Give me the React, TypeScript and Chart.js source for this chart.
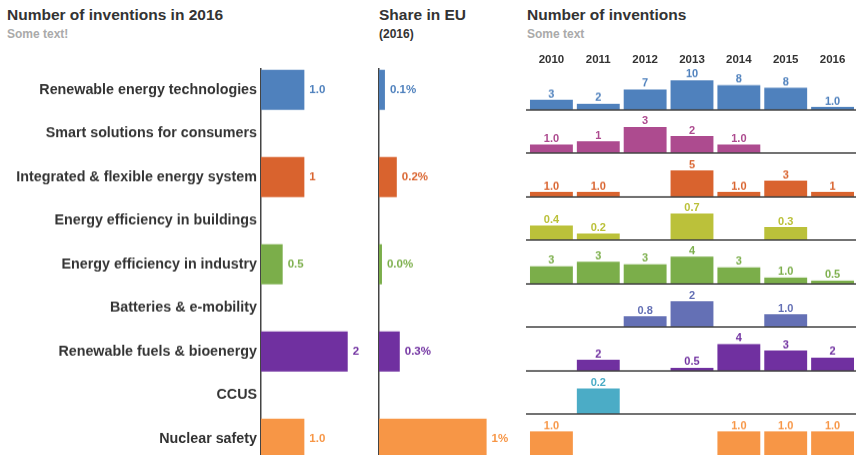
import React, { useEffect, useRef } from "react";
import { Chart, registerables } from "chart.js";
Chart.register(...registerables);

const FONT = '"Liberation Sans", Arial, Helvetica, sans-serif';
const DARK = "#333333";
const AXIS = "#444444";

// ---------- data ----------
const categories = [
  "Renewable energy technologies",
  "Smart solutions for consumers",
  "Integrated & flexible energy system",
  "Energy efficiency in buildings",
  "Energy efficiency in industry",
  "Batteries & e-mobility",
  "Renewable fuels & bioenergy",
  "CCUS",
  "Nuclear safety",
];
const categoryColors = [
  "#4f81bd",
  "#ad4b8f",
  "#d9632e",
  "#bbc13a",
  "#7bae4a",
  "#6470b5",
  "#7030a0",
  "#4bacc6",
  "#f79646",
];
const inventions2016 = [1.0, null, 1.0, null, 0.5, null, 2.0, null, 1.0];
const inventions2016Labels = ["1.0", "", "1", "", "0.5", "", "2", "", "1.0"];
const shareEU = [0.08, null, 0.24, null, 0.04, null, 0.28, null, 1.45];
const shareEULabels = ["0.1%", "", "0.2%", "", "0.0%", "", "0.3%", "", "1%"];

const years = ["2010", "2011", "2012", "2013", "2014", "2015", "2016"];
const renewableEnergyByYear = [3.4, 2.1, 6.9, 10, 8.3, 7.5, 1.0];
const renewableEnergyLabels = ["3", "2", "7", "10", "8", "8", "1.0"];
const smartSolutionsByYear = [0.98, 1.35, 3, 1.96, 0.98, null, null];
const smartSolutionsLabels = ["1.0", "1", "3", "2", "1.0", "", ""];
const integratedSystemByYear = [0.96, 0.96, null, 5, 0.96, 3.08, 0.96];
const integratedSystemLabels = ["1.0", "1.0", "", "5", "1.0", "3", "1"];
const buildingsByYear = [0.38, 0.17, null, 0.7, null, 0.34, null];
const buildingsLabels = ["0.4", "0.2", "", "0.7", "", "0.3", ""];
const industryByYear = [2.6, 3.25, 2.9, 4, 2.45, 0.95, 0.5];
const industryLabels = ["3", "3", "3", "4", "3", "1.0", "0.5"];
const batteriesByYear = [null, null, 0.83, 2, null, 0.99, null];
const batteriesLabels = ["", "", "0.8", "2", "", "1.0", ""];
const renewableFuelsByYear = [null, 1.67, null, 0.46, 4, 3.04, 1.98];
const renewableFuelsLabels = ["", "2", "", "0.5", "4", "3", "2"];
const ccusByYear = [null, 0.2, null, null, null, null, null];
const ccusLabels = ["", "0.2", "", "", "", "", ""];
const nuclearByYear = [1.0, null, null, null, 1.0, 1.0, 1.0];
const nuclearLabels = ["1.0", "", "", "", "1.0", "1.0", "1.0"];

const rowSeries = [
  renewableEnergyByYear,
  smartSolutionsByYear,
  integratedSystemByYear,
  buildingsByYear,
  industryByYear,
  batteriesByYear,
  renewableFuelsByYear,
  ccusByYear,
  nuclearByYear,
];
const rowLabels = [
  renewableEnergyLabels,
  smartSolutionsLabels,
  integratedSystemLabels,
  buildingsLabels,
  industryLabels,
  batteriesLabels,
  renewableFuelsLabels,
  ccusLabels,
  nuclearLabels,
];
// y-axis maximum of each small-multiple row
const rowAxisMax = [14.1, 4.73, 7.9, 1.08, 6.14, 3.19, 6.24, 0.32, 1.58];

// ---------- layout ----------
const TOP = 68.25;
const ROW_H = 43.5;

function hLabelPlugin(labels: string[], colors: string[]) {
  return {
    id: "hLabels",
    afterDatasetsDraw(chart: any) {
      const ctx = chart.ctx;
      const meta = chart.getDatasetMeta(0);
      ctx.save();
      ctx.font = `bold 11.5px ${FONT}`;
      ctx.textAlign = "left";
      ctx.textBaseline = "middle";
      meta.data.forEach((el: any, i: number) => {
        const v = chart.data.datasets[0].data[i];
        if (v == null || !labels[i]) return;
        ctx.fillStyle = colors[i];
        ctx.fillText(labels[i], el.x + 5, el.y);
      });
      ctx.restore();
    },
  };
}

function vLabelPlugin(labels: string[], color: string) {
  return {
    id: "vLabels",
    afterDatasetsDraw(chart: any) {
      const ctx = chart.ctx;
      const meta = chart.getDatasetMeta(0);
      ctx.save();
      // baseline
      const y0 = chart.scales.y.getPixelForValue(0);
      ctx.strokeStyle = AXIS;
      ctx.lineWidth = 1.5;
      ctx.beginPath();
      ctx.moveTo(0, y0);
      ctx.lineTo(chart.width, y0);
      ctx.stroke();
      ctx.font = `bold 11px ${FONT}`;
      ctx.textAlign = "center";
      ctx.textBaseline = "alphabetic";
      ctx.fillStyle = color;
      meta.data.forEach((el: any, i: number) => {
        const v = chart.data.datasets[0].data[i];
        if (v == null || !labels[i]) return;
        ctx.fillText(labels[i], el.x, el.y - 2.5);
      });
      ctx.restore();
    },
  };
}

function useChart(ref: React.RefObject<HTMLCanvasElement>, make: () => any) {
  useEffect(() => {
    if (!ref.current) return;
    const chart = new Chart(ref.current, make());
    return () => chart.destroy();
  }, []);
}

function Box(props: { left: number; top: number; width: number; height: number; children: any }) {
  return (
    <div
      style={{
        position: "absolute",
        left: props.left,
        top: props.top,
        width: props.width,
        height: props.height,
      }}
    >
      {props.children}
    </div>
  );
}

function LeftChart() {
  const ref = useRef<HTMLCanvasElement>(null);
  useChart(ref, () => ({
    type: "bar",
    data: {
      labels: categories,
      datasets: [
        {
          data: inventions2016,
          backgroundColor: categoryColors,
          categoryPercentage: 1,
          barPercentage: 0.92,
        },
      ],
    },
    options: {
      indexAxis: "y",
      animation: false,
      responsive: true,
      maintainAspectRatio: false,
      layout: { padding: 0 },
      plugins: { legend: { display: false }, tooltip: { enabled: false } },
      scales: {
        x: { display: false, min: 0, max: 2.56 },
        y: {
          afterFit: (s: any) => {
            s.width = 261;
            s.paddingTop = 0;
            s.paddingBottom = 0;
          },
          grid: { display: false, drawTicks: false },
          border: { display: true, color: AXIS, width: 1.5 },
          ticks: {
            padding: 4,
            color: DARK,
            font: { family: FONT, size: 14.3, weight: "bold" },
          },
        },
      },
    },
    plugins: [hLabelPlugin(inventions2016Labels, categoryColors)],
  }));
  return <canvas ref={ref} />;
}

function MiddleChart() {
  const ref = useRef<HTMLCanvasElement>(null);
  useChart(ref, () => ({
    type: "bar",
    data: {
      labels: categories,
      datasets: [
        {
          data: shareEU,
          backgroundColor: categoryColors,
          categoryPercentage: 1,
          barPercentage: 0.92,
        },
      ],
    },
    options: {
      indexAxis: "y",
      animation: false,
      responsive: true,
      maintainAspectRatio: false,
      layout: { padding: 0 },
      plugins: { legend: { display: false }, tooltip: { enabled: false } },
      scales: {
        x: { display: false, min: 0, max: 1.9 },
        y: {
          afterFit: (s: any) => {
            s.width = 4;
            s.paddingTop = 0;
            s.paddingBottom = 0;
          },
          grid: { display: false, drawTicks: false },
          border: { display: true, color: AXIS, width: 1.5 },
          ticks: { display: false },
        },
      },
    },
    plugins: [hLabelPlugin(shareEULabels, categoryColors)],
  }));
  return <canvas ref={ref} />;
}

function YearHeader() {
  const ref = useRef<HTMLCanvasElement>(null);
  useChart(ref, () => ({
    type: "bar",
    data: { labels: years, datasets: [{ data: years.map(() => 0) }] },
    options: {
      animation: false,
      responsive: true,
      maintainAspectRatio: false,
      layout: { padding: { left: 2, bottom: 2 } },
      plugins: { legend: { display: false }, tooltip: { enabled: false } },
      scales: {
        y: { display: false },
        x: {
          position: "bottom",
          afterFit: (s: any) => {
            s.paddingLeft = 0;
            s.paddingRight = 0;
          },
          grid: { display: false, drawTicks: false },
          border: { display: false },
          ticks: {
            padding: 0,
            color: DARK,
            maxRotation: 0,
            autoSkip: false,
            font: { family: FONT, size: 11.5, weight: "bold" },
          },
        },
      },
    },
  }));
  return <canvas ref={ref} />;
}

function RowChart(props: { index: number }) {
  const ref = useRef<HTMLCanvasElement>(null);
  const i = props.index;
  useChart(ref, () => ({
    type: "bar",
    data: {
      labels: years,
      datasets: [
        {
          data: rowSeries[i],
          backgroundColor: categoryColors[i],
          categoryPercentage: 1,
          barPercentage: 0.915,
        },
      ],
    },
    options: {
      animation: false,
      responsive: true,
      maintainAspectRatio: false,
      layout: { padding: { left: 2, bottom: 2.5, top: 0, right: 0 } },
      plugins: { legend: { display: false }, tooltip: { enabled: false } },
      scales: {
        x: { display: false },
        y: { display: false, min: 0, max: rowAxisMax[i] },
      },
    },
    plugins: [vLabelPlugin(rowLabels[i], categoryColors[i])],
  }));
  return <canvas ref={ref} />;
}

const titleStyle: React.CSSProperties = {
  position: "absolute",
  fontFamily: FONT,
  fontWeight: "bold",
  fontSize: 15.5,
  lineHeight: "18px",
  color: DARK,
  whiteSpace: "nowrap",
};
const subStyle: React.CSSProperties = {
  position: "absolute",
  fontFamily: FONT,
  fontWeight: "bold",
  fontSize: 12,
  lineHeight: "14px",
  color: "#aaaaaa",
  whiteSpace: "nowrap",
};

export default function App() {
  return (
    <div
      style={{
        position: "fixed",
        left: 0,
        top: 0,
        width: 856,
        height: 455,
        overflow: "hidden",
        background: "#ffffff",
      }}
    >
      <div style={{ ...titleStyle, left: 7, top: 6 }}>Number of inventions in 2016</div>
      <div style={{ ...subStyle, left: 7, top: 27 }}>Some text!</div>
      <div style={{ ...titleStyle, left: 379, top: 6 }}>Share in EU</div>
      <div style={{ ...subStyle, left: 379, top: 27, color: DARK }}>(2016)</div>
      <div style={{ ...titleStyle, left: 527, top: 6 }}>Number of inventions</div>
      <div style={{ ...subStyle, left: 527, top: 27 }}>Some text</div>

      <Box left={0} top={TOP} width={372} height={ROW_H * 9}>
        <LeftChart />
      </Box>
      <Box left={375} top={TOP} width={145} height={ROW_H * 9}>
        <MiddleChart />
      </Box>
      <Box left={526} top={40} width={330} height={28}>
        <YearHeader />
      </Box>
      {categories.map((_, i) => (
        <Box key={i} left={526} top={TOP + ROW_H * i} width={330} height={ROW_H}>
          <RowChart index={i} />
        </Box>
      ))}
    </div>
  );
}
